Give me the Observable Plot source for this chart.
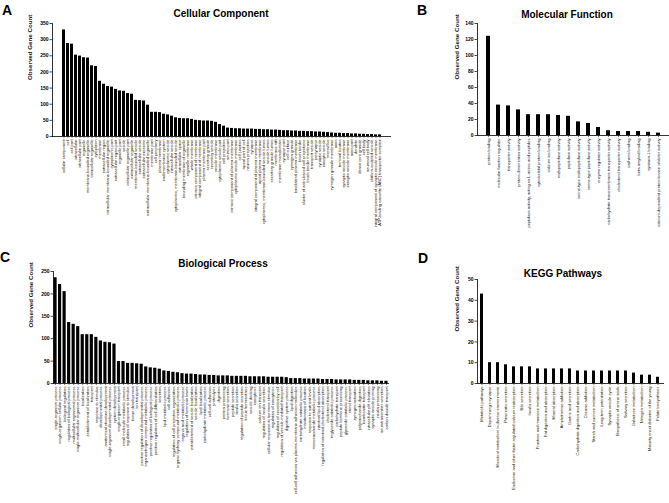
<!DOCTYPE html>
<html>
<head>
<meta charset="utf-8">
<script src="https://cdn.jsdelivr.net/npm/d3@7"></script>
<script src="https://cdn.jsdelivr.net/npm/@observablehq/plot@0.6"></script>
<style>
  html, body { margin: 0; padding: 0; background: #fff; }
  #page { position: relative; width: 669px; height: 503px; overflow: hidden; background: #fff;
          font-family: "Liberation Sans", Arial, sans-serif; color: #000; }
  .letter { position: absolute; font-size: 14px; font-weight: bold; line-height: 14px; }
  .title { position: absolute; width: 200px; text-align: center; font-size: 10px; font-weight: bold; line-height: 10px; }
  .panel { position: absolute; }
  .panel svg { overflow: visible; }
</style>
</head>
<body>
<div id="page">
  <div class="letter" style="left:2px;top:3px;">A</div>
  <div class="title" style="left:121px;top:9px;">Cellular Component</div>
  <div class="letter" style="left:417px;top:3px;">B</div>
  <div class="title" style="left:467px;top:10px;">Molecular Function</div>
  <div class="letter" style="left:0px;top:250px;">C</div>
  <div class="title" style="left:123px;top:259px;">Biological Process</div>
  <div class="letter" style="left:418px;top:251px;">D</div>
  <div class="title" style="left:463px;top:269px;">KEGG Pathways</div>
  <div class="panel" id="pA" style="left:0px;top:0px;"></div>
  <div class="panel" id="pB" style="left:400px;top:0px;"></div>
  <div class="panel" id="pC" style="left:0px;top:250px;"></div>
  <div class="panel" id="pD" style="left:400px;top:250px;"></div>
</div>
<script>
// ---------- Panel A: Cellular Component ----------
const ccTerms = [
  "cellular component","cell","cell part","intracellular","intracellular part","organelle",
  "membrane-bounded organelle","intracellular organelle","cytoplasm","membrane","extracellular region",
  "intracellular membrane-bounded organelle","cytoplasmic part","extracellular region part","organelle part",
  "vesicle","intracellular organelle part","extracellular organelle","membrane-bounded vesicle",
  "extracellular vesicle","extracellular exosome","extracellular membrane-bounded organelle","membrane part",
  "cell periphery","plasma membrane","endomembrane system","cytoplasmic vesicle","intracellular vesicle",
  "cytoplasmic, membrane-bounded vesicle","extracellular space","bounding membrane of organelle",
  "organelle membrane","whole membrane","intrinsic component of membrane","integral component of membrane",
  "plasma membrane part","secretory granule","secretory vesicle","vesicle membrane","cytoplasmic vesicle part",
  "cell projection","neuron part","intrinsic component of plasma membrane","cytoplasmic vesicle membrane",
  "cell junction","apical part of cell","neuron projection","synapse","integral component of plasma membrane",
  "apical plasma membrane","cytoplasmic, membrane-bounded vesicle lumen","vesicle lumen",
  "secretory granule lumen","membrane raft","membrane microdomain","synapse part","cell surface",
  "zymogen granule","basolateral plasma membrane","brush border","cluster of actin-based cell projections",
  "brush border membrane","transport vesicle","presynapse","synaptic vesicle","exocytic vesicle",
  "microvillus","zymogen granule membrane","axon","terminal bouton","synaptic vesicle membrane",
  "exocytic vesicle membrane","axon part","dendrite","dense core granule","cell body","neuronal cell body",
  "clathrin-sculpted vesicle","integral component of synaptic vesicle membrane",
  "ATP-binding cassette (ABC) transporter complex"
];
const ccCounts = [
  330,288,286,252,249,244,243,219,217,171,162,155,153,146,141,140,133,131,112,111,
  110,97,75,75,74,69,67,63,58,56,55,55,53,50,49,48,48,47,44,37,
  32,26,25,24,24,23,23,23,22,22,21,21,20,20,19,18,18,17,17,16,
  16,15,15,14,14,13,12,11,10,10,9,9,8,8,7,7,6,6,5,5
];
const ccTicks = [0,50,100,150,200,250,300,350];

// ---------- Panel B: Molecular Function ----------
const mfTerms = [
  "protein binding","molecular function regulator","transporter activity","protein dimerization activity",
  "peptidase activity, acting on L-amino acid peptides","cytoskeletal protein binding","calcium ion binding",
  "endopeptidase activity","peptidase activity","serine-type endopeptidase activity",
  "serine-type peptidase activity","enzyme regulator activity","carbohydrate transmembrane transporter activity",
  "cholesterol transporter activity","cadherin binding","beta-amyloid binding","syntaxin-1 binding",
  "calcium-dependent protein kinase inhibitor activity"
];
const mfCounts = [124,38,37,32,26,26,26,25,24,17,15,10,6,5,5,5,4,3];
const mfTicks = [0,20,40,60,80,100,120,140];

// ---------- Panel C: Biological Process ----------
const bpTerms = [
  "single-organism process","single-organism cellular process","biological regulation",
  "regulation of biological process","multicellular organismal process","single-multicellular organism process",
  "localization","establishment of localization","transport","response to stimulus","developmental process",
  "anatomical structure development","single-organism developmental process","system development",
  "single-organism transport","small molecule metabolic process","regulation of response to stimulus",
  "tissue development","ion transport","positive regulation of developmental process",
  "organonitrogen compound metabolic process","positive regulation of biological process",
  "positive regulation of cell differentiation","secretion","lipid metabolic process","cell adhesion",
  "regulation of cell projection organization","organic hydroxy compound metabolic process",
  "organic acid metabolic process","regulation of hormone levels","establishment of vesicle localization",
  "vesicle localization","lipid localization","carbohydrate metabolic process","cell-cell adhesion",
  "proteolysis","digestion","protein processing","hormone secretion","peptide secretion","insulin secretion",
  "regulation of peptide secretion","tissue homeostasis","vesicle docking","exocytosis","calcium ion transport",
  "regulation of insulin secretion","cellular response to hormone stimulus","regulation of exocytosis",
  "regulation of secretion by cell","regulation of vesicle-mediated transport","digestive system process",
  "lipid digestion","cell-cell adhesion via plasma-membrane adhesion molecules","carbohydrate catabolic process",
  "maintenance of location","response to nutrient levels","monosaccharide metabolic process",
  "intestinal lipid absorption","regulation of intestinal cholesterol absorption","cholesterol transport",
  "triglyceride catabolic process","carbohydrate transport","peptide hormone processing",
  "glycoside catabolic process","sterol transport","zymogen activation","polysaccharide digestion",
  "bicarbonate transport","intracellular pH elevation","synaptic vesicle priming","insulin processing",
  "neurotransmitter secretion","carbon dioxide transport"
];
const bpCounts = [
  236,221,205,136,132,127,109,109,109,103,95,92,91,88,49,49,45,45,44,43,
  37,35,34,32,28,27,25,24,22,21,21,20,19,19,18,18,17,17,17,16,
  16,16,16,15,15,15,15,14,14,14,14,13,11,11,11,10,10,10,10,9,
  9,9,8,8,8,8,7,7,7,6,6,6,5,5
];
const bpTicks = [0,50,100,150,200,250];

// ---------- Panel D: KEGG Pathways ----------
const keggTerms = [
  "Metabolic pathways","Dopaminergic synapse","Microbial metabolism in diverse environments",
  "Pancreatic secretion","Endocrine and other factor-regulated calcium reabsorption","Bile secretion",
  "Insulin secretion","Fructose and mannose metabolism","Fat digestion and absorption","Mineral absorption",
  "Amphetamine addiction","Gastric acid secretion","Carbohydrate digestion and absorption","Cocaine addiction",
  "Starch and sucrose metabolism","Long-term potentiation","Synaptic vesicle cycle",
  "Biosynthesis of amino acids","Salivary secretion","Galactose metabolism","Nitrogen metabolism",
  "Maturity onset diabetes of the young","Folate biosynthesis"
];
const keggCounts = [43,10,10,9,8,8,8,7,7,7,7,7,6,6,6,6,6,6,6,5,4,4,3];
const keggTicks = [0,10,20,30,40,50];

const FONT = "Liberation Sans, Arial, sans-serif";

function panel(el, terms, counts, ticks, o) {
  const data = terms.map((t, i) => ({term: t, count: counts[i]}));
  const chart = Plot.plot({
    width: o.width, height: o.height,
    marginLeft: o.ml, marginRight: o.mr, marginTop: o.mt, marginBottom: o.mb,
    style: {fontFamily: FONT, background: "transparent", color: "#000"},
    x: {domain: terms, paddingInner: o.pi, paddingOuter: o.po, axis: null},
    y: {domain: [0, ticks[ticks.length - 1]], axis: null},
    marks: [
      Plot.barY(data, {x: "term", y: "count", fill: "#000"}),
      Plot.frame({anchor: "left", stroke: "#000", strokeWidth: 0.8}),
      Plot.frame({anchor: "bottom", stroke: "#000", strokeWidth: 0.8}),
      Plot.axisY({ticks: ticks, tickSize: 2.5, tickPadding: 1.5, fontSize: 5, fontWeight: "bold",
                  label: null, strokeWidth: 0.7}),
      Plot.axisX({ticks: terms, tickRotate: -90, tickSize: 2, tickPadding: 1, fontSize: 4,
                  label: null, strokeWidth: 0.5, fill: "#111"}),
      Plot.text(["Observed Gene Count"], {frameAnchor: "left", rotate: -90, dx: -o.lab,
                  fontSize: 6.2, fontWeight: "bold", fill: "#222"})
    ]
  });
  document.getElementById(el).appendChild(chart);
}

panel("pA", ccTerms, ccCounts, ccTicks, {width: 400, height: 240, ml: 52, mr: 10, mt: 23, mb: 104, pi: 0.3, po: 0.1, lab: 22});
panel("pB", mfTerms, mfCounts, mfTicks, {width: 269, height: 245, ml: 77, mr: 0, mt: 23, mb: 110, pi: 0.57, po: 0.4, lab: 20});
panel("pC", bpTerms, bpCounts, bpTicks, {width: 400, height: 253, ml: 53, mr: 12, mt: 21, mb: 120, pi: 0.3, po: 0.1, lab: 22});
panel("pD", keggTerms, keggCounts, keggTicks, {width: 269, height: 253, ml: 77, mr: 6, mt: 29, mb: 120, pi: 0.57, po: 0.1, lab: 20});
</script>
</body>
</html>
